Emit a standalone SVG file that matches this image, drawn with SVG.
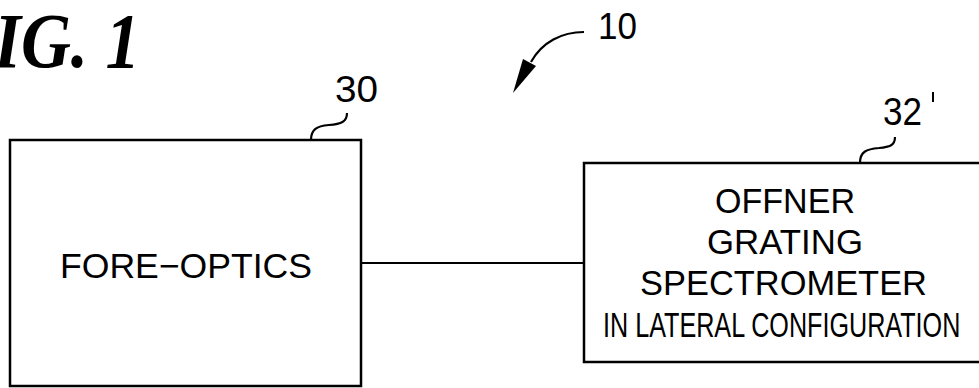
<svg xmlns="http://www.w3.org/2000/svg" width="979" height="388" viewBox="0 0 979 388">
<style>
.box{fill:#fff;stroke:#000;stroke-width:2.5}
.lbl{font-family:"Liberation Sans",Arial,sans-serif;font-size:35px;fill:#000}
.num{font-family:"Liberation Sans",Arial,sans-serif;font-size:36px;fill:#000}
.lead{fill:none;stroke:#000;stroke-width:2.2}
.conn{fill:none;stroke:#000;stroke-width:2.2}
.title{font-family:"Liberation Serif","Times New Roman",serif;font-weight:bold;font-style:italic;font-size:78px;fill:#000}
</style>
<rect width="979" height="388" fill="#fff"/>
<text class="title" x="-6" y="67" textLength="146" lengthAdjust="spacingAndGlyphs">IG. 1</text>
<g id="ref10">
<path class="lead" d="M584,32 C562,32 542,42 531,62"/>
<polygon points="523,59 536,66 513,93" fill="#000"/>
<text class="num" x="598" y="39" textLength="39" lengthAdjust="spacingAndGlyphs">10</text>
</g>
<g id="connectors">
<line class="conn" x1="361" y1="263" x2="584" y2="263"/>
</g>
<g id="fore-optics">
<rect class="box" x="10" y="140" width="351" height="246"/>
<text class="lbl" x="60" y="278" textLength="252" lengthAdjust="spacingAndGlyphs">FORE−OPTICS</text>
<path class="lead" d="M347,113 C347,122 341,124 329,125 C316,126 311,130 311,140"/>
<text class="num" x="335" y="102" textLength="43" lengthAdjust="spacingAndGlyphs">30</text>
</g>
<g id="spectrometer">
<rect class="box" x="584" y="163" width="420" height="199"/>
<text class="lbl" x="715" y="213" textLength="140" lengthAdjust="spacingAndGlyphs">OFFNER</text>
<text class="lbl" x="707" y="254" textLength="156" lengthAdjust="spacingAndGlyphs">GRATING</text>
<text class="lbl" x="640" y="295" textLength="287" lengthAdjust="spacingAndGlyphs">SPECTROMETER</text>
<text class="lbl" transform="translate(603 337) scale(0.719 1)" x="0" y="0">IN LATERAL CONFIGURATION</text>
<path class="lead" d="M895,137 C895,146 889,147 879,148 C866,149 860,152 860,163"/>
<text class="num" x="883" y="125" textLength="39" lengthAdjust="spacingAndGlyphs" style="font-size:38px">32</text>
<line x1="933" y1="92" x2="933" y2="102" stroke="#000" stroke-width="2"/>
</g>
</svg>
